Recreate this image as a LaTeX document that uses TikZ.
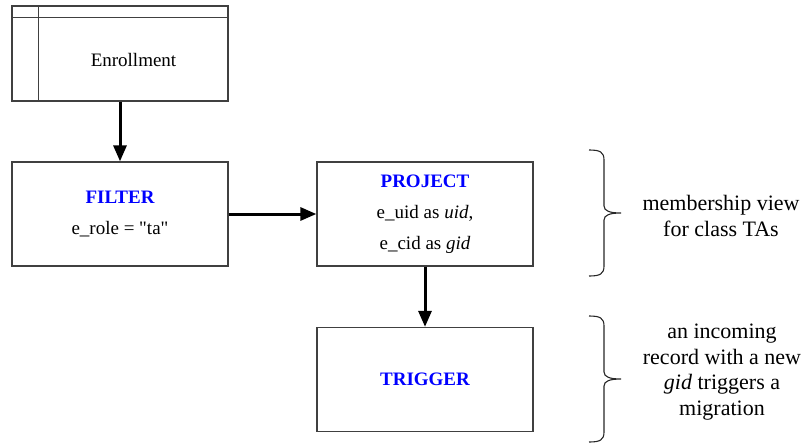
\documentclass[tikz,border=0pt]{standalone}
\usepackage{fontspec}
\setmainfont{LiberationSerif}[Extension=.ttf, UprightFont=*-Regular, BoldFont=*-Bold, ItalicFont=*-Italic, BoldItalicFont=*-BoldItalic]
\usetikzlibrary{arrows.meta}
\begin{document}
\begin{tikzpicture}[x=1pt,y=-1pt,
  box/.style={draw=black!75, line width=1.3pt, rectangle, minimum width=216pt, minimum height=104pt, inner sep=0pt, align=center, font=\fontsize{19}{31}\selectfont},
  flow/.style={line width=3pt, -{Triangle[length=16pt,width=13pt]}},
  note/.style={align=center, font=\fontsize{22}{25.5}\selectfont},
  bracestyle/.style={draw=black!85, line width=1.1pt}]
\useasboundingbox (0,0) rectangle (802,444);
% Enrollment table
\node[box, minimum height=95pt] (enr) at (120,53.5) {};
\draw[draw=black!75, line width=1.3pt] ([yshift=-12pt]enr.north west) -- ([yshift=-12pt]enr.north east);
\draw[draw=black!75, line width=1.3pt] ([xshift=27pt]enr.north west) -- ([xshift=27pt]enr.south west);
\node[font=\fontsize{19}{23}\selectfont] (enrlabel) at (133.5,60) {Enrollment};
% operators
\node[box] (filter) at (120,214) {{\color{blue}\bfseries FILTER}\\e\_role = \textquotedbl ta\textquotedbl};
\node[box] (project) at (425,214) {{\color{blue}\bfseries PROJECT}\\e\_uid as \textit{uid},\\e\_cid as \textit{gid}};
\node[box] (trigger) at (425,379.5) {{\color{blue}\bfseries TRIGGER}};
% connectors
\draw[flow] (enr.south) -- (filter.north);
\draw[flow] (filter.east) -- (project.west);
\draw[flow] (project.south) -- (trigger.north);
% braces
\coordinate (b1top) at (589,150);
\coordinate (b1tip) at (621,213);
\coordinate (b1bot) at (589,276);
\draw[bracestyle] (b1top) .. controls (600,150) and (604,152) .. (604,160) -- (604,206) .. controls (604,211) and (610,213) .. (b1tip)
  .. controls (610,213) and (604,215) .. (604,220) -- (604,266) .. controls (604,274) and (600,276) .. (b1bot);
\coordinate (b2top) at (589,316);
\coordinate (b2tip) at (621,379);
\coordinate (b2bot) at (589,442);
\draw[bracestyle] (b2top) .. controls (600,316) and (604,318) .. (604,326) -- (604,372) .. controls (604,377) and (610,379) .. (b2tip)
  .. controls (610,379) and (604,381) .. (604,386) -- (604,432) .. controls (604,440) and (600,442) .. (b2bot);
% notes
\node[note] (note1) at (721,216) {membership view\\for class TAs};
\node[note] (note2) at (722,372) {an incoming\\record with a new\\\textit{gid} triggers a\\migration};
\end{tikzpicture}
\end{document}
